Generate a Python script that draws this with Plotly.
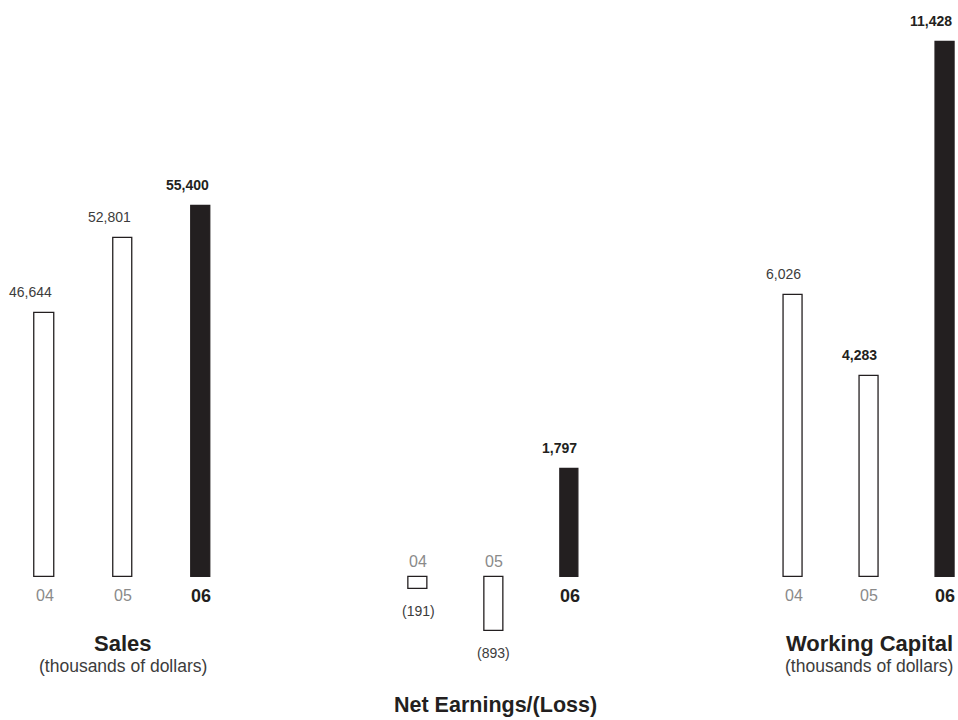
import plotly.graph_objects as go

# ---- data -------------------------------------------------------------
YEARS = ["04", "05", "06"]
SALES = [46644, 52801, 55400]
NET_EARNINGS = [-191, -893, 1797]
WORKING_CAPITAL = [6026, 4283, 11428]

# ---- styling ------------------------------------------------------------
INK = "#231f20"
LABEL_GREY = "#3c3c3c"
YEAR_GREY = "#8a8a8a"
FONT = "Liberation Sans, Arial, Helvetica, sans-serif"
W, H = 958, 720
BASELINE_PX = 577          # distance of the bar baseline from the top edge
BAR_WIDTH = 0.25           # in category units

panels = [
    dict(values=SALES, title="Sales", subtitle="(thousands of dollars)",
         floor=25000, px_per_unit=0.0122,
         xdomain_px=(5.4, 240.2), xrange=(-0.5, 2.5), title_x_px=122.8,
         bold_labels={"06"}, title_pos="top"),
    dict(values=NET_EARNINGS, title="Net Earnings/(Loss)", subtitle=None,
         floor=0, px_per_unit=0.0602,
         xdomain_px=(380.5, 607.3), xrange=(-0.5, 2.5), title_x_px=495,
         bold_labels={"06"}, title_pos="bottom"),
    dict(values=WORKING_CAPITAL, title="Working Capital",
         subtitle="(thousands of dollars)",
         floor=0, px_per_unit=0.046835,
         xdomain_px=(755.7, 956.9), xrange=(-0.5, 2.16), title_x_px=869.2,
         bold_labels={"05", "06"}, title_pos="top"),
]


def fmt(v):
    s = f"{abs(v):,}"
    return f"({s})" if v < 0 else s


fig = go.Figure()
annotations = []
layout_axes = {}

for n, p in enumerate(panels, start=1):
    sfx = "" if n == 1 else str(n)
    xref, yref = f"x{sfx}", f"y{sfx}"
    vals = p["values"]
    floor = p["floor"]
    k = p["px_per_unit"]

    fills = ["white" if y != "06" else INK for y in YEARS]
    fig.add_trace(go.Bar(
        x=YEARS,
        y=[v - floor for v in vals],
        base=floor,
        width=BAR_WIDTH,
        marker=dict(color=fills, line=dict(color=INK, width=1.3)),
        customdata=vals,
        hovertemplate="%{x}: %{customdata:,}<extra></extra>",
        xaxis=xref, yaxis=yref,
    ))

    x0, x1 = p["xdomain_px"]
    layout_axes[f"xaxis{sfx}"] = dict(
        domain=[x0 / W, min(x1 / W, 1.0)], range=list(p["xrange"]),
        type="category", visible=False, fixedrange=True, anchor=yref,
    )
    layout_axes[f"yaxis{sfx}"] = dict(
        domain=[0, 1],
        range=[floor - (H - BASELINE_PX) / k, floor + BASELINE_PX / k],
        visible=False, fixedrange=True, anchor=xref,
    )

    for i, (yr, v) in enumerate(zip(YEARS, vals)):
        bold = yr in p["bold_labels"]
        label_font = dict(family=FONT, size=14,
                          color=INK if bold else LABEL_GREY,
                          weight="bold" if bold else "normal")
        if v >= 0:
            annotations.append(dict(
                xref=xref, yref=yref, x=i + BAR_WIDTH / 2, y=v,
                xanchor="right", yanchor="bottom", yshift=11,
                text=fmt(v), showarrow=False, font=label_font))
        else:
            annotations.append(dict(
                xref=xref, yref=yref, x=i, y=v,
                xanchor="center", yanchor="top", yshift=-12,
                text=fmt(v), showarrow=False, font=label_font))

        # year label sits on the opposite side of the baseline from the bar
        is_current = yr == "06"
        year_font = dict(family=FONT,
                         size=18 if is_current else 16,
                         color=INK if is_current else YEAR_GREY,
                         weight="bold" if is_current else "normal")
        if v >= 0:
            annotations.append(dict(
                xref=xref, yref=yref, x=i, y=floor,
                xanchor="center", yanchor="top",
                yshift=-6.5 if is_current else -8,
                text=yr, showarrow=False, font=year_font))
        else:
            annotations.append(dict(
                xref=xref, yref=yref, x=i, y=floor,
                xanchor="center", yanchor="bottom", yshift=5,
                text=yr, showarrow=False, font=year_font))

    # panel titles
    cx = p["title_x_px"] / W
    if p["title_pos"] == "top":
        annotations.append(dict(
            xref="paper", yref="paper", x=cx, y=1 - 643.2 / H,
            xanchor="center", yanchor="middle", showarrow=False,
            text=p["title"],
            font=dict(family=FONT, size=22, color=INK, weight="bold")))
        annotations.append(dict(
            xref="paper", yref="paper", x=cx, y=1 - 665.5 / H,
            xanchor="center", yanchor="middle", showarrow=False,
            text=p["subtitle"],
            font=dict(family=FONT, size=17.5, color=LABEL_GREY)))
    else:
        annotations.append(dict(
            xref="paper", yref="paper", x=cx, y=1 - 704.5 / H,
            xanchor="center", yanchor="middle", showarrow=False,
            text=p["title"],
            font=dict(family=FONT, size=21.5, color=INK, weight="bold")))

fig.update_layout(
    width=W, height=H,
    margin=dict(l=0, r=0, t=0, b=0),
    paper_bgcolor="white", plot_bgcolor="white",
    showlegend=False,
    bargap=0,
    annotations=annotations,
    **layout_axes,
)

fig.write_html("out.html")
